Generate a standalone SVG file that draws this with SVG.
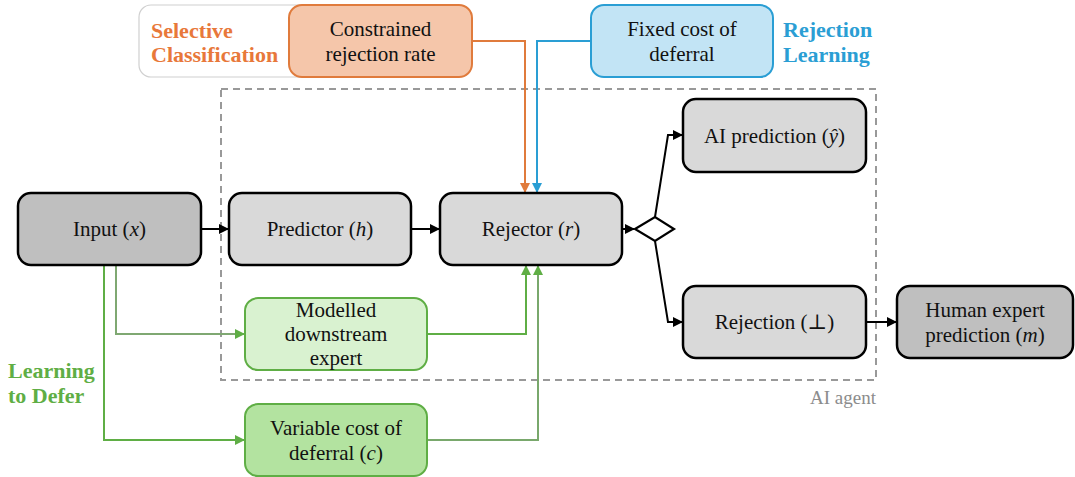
<svg xmlns="http://www.w3.org/2000/svg" width="1075" height="477" viewBox="0 0 1075 477">
<style>
text{font-family:"Liberation Serif","DejaVu Serif",serif;font-size:21px;fill:#111;text-anchor:middle;dominant-baseline:central}
.b{stroke:#000;stroke-width:2.5}
.dark{fill:#bfbfbf}
.light{fill:#d9d9d9}
.lab{font-weight:bold;text-anchor:start;font-size:22px}
.k{fill:none;stroke:#000;stroke-width:2}
.g{fill:none;stroke:#5fae45;stroke-width:2}
</style>
<defs>
<marker id="ak" viewBox="0 0 10 10" refX="9" refY="5" markerWidth="5" markerHeight="5" orient="auto"><path d="M0,0L10,5L0,10z" fill="#000"/></marker>
<marker id="ag" viewBox="0 0 10 10" refX="9" refY="5" markerWidth="5" markerHeight="5" orient="auto"><path d="M0,0L10,5L0,10z" fill="#5fae45"/></marker>
<marker id="ao" viewBox="0 0 10 10" refX="9" refY="5" markerWidth="5" markerHeight="5" orient="auto"><path d="M0,0L10,5L0,10z" fill="#e07b3c"/></marker>
<marker id="ab" viewBox="0 0 10 10" refX="9" refY="5" markerWidth="5" markerHeight="5" orient="auto"><path d="M0,0L10,5L0,10z" fill="#2a9ed4"/></marker>
</defs>

<g id="agent">
<rect x="221" y="89" width="655" height="291" fill="none" stroke="#999" stroke-width="2" stroke-dasharray="7,5"/>
<text x="843" y="397" style="fill:#8c8c8c;font-size:19px">AI agent</text>
</g>

<g id="selective">
<rect x="139" y="5" width="180" height="72" rx="12" fill="#fff" stroke="#d0d0d0" stroke-width="1.2"/>
<text class="lab" x="151" y="30" style="fill:#e8783a">Selective</text>
<text class="lab" x="151" y="54" style="fill:#e8783a">Classification</text>
</g>
<g id="constrained">
<rect x="289" y="5" width="183" height="72" rx="13" fill="#f5c6aa" stroke="#e07b3c" stroke-width="2"/>
<text x="380.5" y="29">Constrained</text>
<text x="380.5" y="54">rejection rate</text>
</g>
<g id="fixed">
<rect x="591" y="5" width="182" height="72" rx="13" fill="#c2e4f5" stroke="#2a9ed4" stroke-width="2"/>
<text x="682" y="29">Fixed cost of</text>
<text x="682" y="54">deferral</text>
</g>
<g id="rejlearn">
<text class="lab" x="783" y="29" style="fill:#2a9ed4">Rejection</text>
<text class="lab" x="783" y="54" style="fill:#2a9ed4">Learning</text>
</g>
<g id="ltd">
<text class="lab" x="8" y="370" style="fill:#5fae45">Learning</text>
<text class="lab" x="8" y="395" style="fill:#5fae45">to Defer</text>
</g>

<g id="connectors">
<path class="k" d="M201,229H228" marker-end="url(#ak)"/>
<path class="k" d="M411,229H439" marker-end="url(#ak)"/>
<path class="k" d="M622,229H634" marker-end="url(#ak)"/>
<path class="k" d="M655,217L668,135H682" marker-end="url(#ak)"/>
<path class="k" d="M655,241L668,322H682" marker-end="url(#ak)"/>
<path class="k" d="M866,322H896" marker-end="url(#ak)"/>
<path d="M472,41H525V192" fill="none" stroke="#e07b3c" stroke-width="2" marker-end="url(#ao)"/>
<path d="M591,41H537V192" fill="none" stroke="#2a9ed4" stroke-width="2" marker-end="url(#ab)"/>
<path class="g" d="M116,265V334H244" marker-end="url(#ag)" style="stroke:#7fa872"/>
<path class="g" d="M104,265V440H244" marker-end="url(#ag)"/>
<path class="g" d="M427,334H526V266" marker-end="url(#ag)"/>
<path class="g" d="M427,440H538V266" marker-end="url(#ag)" style="stroke:#79a86c"/>
</g>

<g id="input">
<rect class="b dark" x="18" y="193" width="183" height="72" rx="13"/>
<text x="109.5" y="229">Input (<tspan font-style="italic">x</tspan>)</text>
</g>
<g id="predictor">
<rect class="b light" x="229" y="193" width="182" height="72" rx="13"/>
<text x="320" y="229">Predictor (<tspan font-style="italic">h</tspan>)</text>
</g>
<g id="rejector">
<rect class="b light" x="440" y="193" width="182" height="72" rx="13"/>
<text x="531" y="229">Rejector (<tspan font-style="italic">r</tspan>)</text>
</g>
<g id="decision">
<path d="M635,229L655,217L674,229L655,241z" fill="#fff" stroke="#000" stroke-width="2.2"/>
</g>
<g id="aipred">
<rect class="b light" x="683" y="99" width="183" height="73" rx="13"/>
<text x="774.5" y="136">AI prediction (<tspan font-style="italic">ŷ</tspan>)</text>
</g>
<g id="rejection">
<rect class="b light" x="683" y="286" width="183" height="72" rx="13"/>
<text x="774.5" y="322">Rejection (⊥)</text>
</g>
<g id="human">
<rect class="b dark" x="897" y="286" width="176" height="72" rx="13"/>
<text x="985" y="310">Human expert</text>
<text x="985" y="335">prediction (<tspan font-style="italic">m</tspan>)</text>
</g>
<g id="modelled">
<rect x="245" y="298" width="182" height="72" rx="13" fill="#d9f2d0" stroke="#5fae45" stroke-width="2"/>
<text x="336" y="310">Modelled</text>
<text x="336" y="334">downstream</text>
<text x="336" y="358">expert</text>
</g>
<g id="variable">
<rect x="245" y="404" width="182" height="72" rx="13" fill="#b3e3a0" stroke="#5fae45" stroke-width="2"/>
<text x="336" y="428">Variable cost of</text>
<text x="336" y="453">deferral (<tspan font-style="italic">c</tspan>)</text>
</g>
</svg>
